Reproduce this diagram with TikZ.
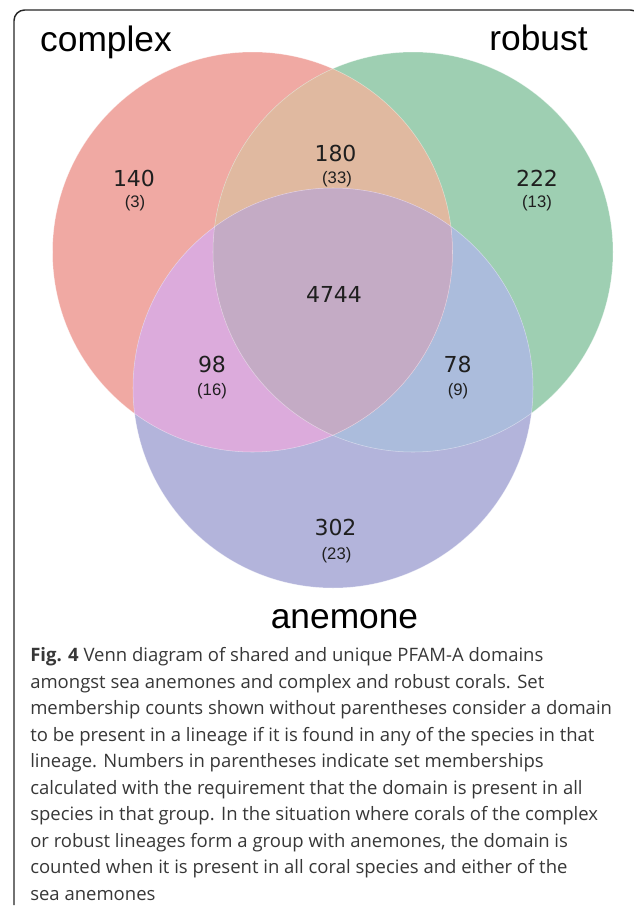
\documentclass[tikz,border=0pt]{standalone}
\usepackage{fontspec}
\usepackage{xcolor}
\newfontfamily\setfont{Liberation Sans}
\newfontfamily\numfont{DejaVu Sans}
\newfontfamily\capfont{Open Sans}
\definecolor{cplxcol}{RGB}{240,169,163}
\definecolor{robcol}{RGB}{158,207,178}
\definecolor{anemcol}{RGB}{179,180,219}
\definecolor{crcol}{RGB}{224,185,160}
\definecolor{cacol}{RGB}{220,171,220}
\definecolor{racol}{RGB}{171,188,220}
\definecolor{allcol}{RGB}{196,171,197}
\definecolor{capcol}{RGB}{55,55,55}

\begin{document}
\begin{tikzpicture}[x=0.75pt,y=-0.75pt,
    setname/.style={font=\setfont\fontsize{26.5}{30}\selectfont, anchor=base, inner sep=0pt},
    bignum/.style={font=\numfont\fontsize{16.5}{19}\selectfont, anchor=base, inner sep=0pt, text=black!88},
    smallnum/.style={font=\setfont\fontsize{12.5}{15}\selectfont, anchor=base, inner sep=0pt, text=black!88},
    capline/.style={font=\capfont\fontsize{13.87}{16}\selectfont, anchor=base west, inner sep=0pt, text=capcol},
    rim/.style={draw=white, line width=0.4pt, draw opacity=0.45}]
    \useasboundingbox (0,0) rectangle (633,910);
    % frame
    \draw[line width=1.1pt, black!85, rounded corners=8pt] (14,905) -- (14,10) -- (641,10) -- (641,905);

    % circle centres
    \coordinate (cplx) at (252.5,252);
    \coordinate (rob) at (413,252);
    \coordinate (anem) at (333,388);
    \def\rr{150pt}

    % single sets
    \fill[cplxcol] (cplx) circle[radius=\rr];
    \fill[robcol] (rob) circle[radius=\rr];
    \fill[anemcol] (anem) circle[radius=\rr];
    % overlaps
    \begin{scope}
        \clip (rob) circle[radius=\rr];
        \fill[racol] (anem) circle[radius=\rr];
    \end{scope}
    \begin{scope}
        \clip (cplx) circle[radius=\rr];
        \fill[crcol] (rob) circle[radius=\rr];
        \fill[cacol] (anem) circle[radius=\rr];
        \clip (rob) circle[radius=\rr];
        \fill[allcol] (anem) circle[radius=\rr];
    \end{scope}
    \draw[rim] (cplx) circle[radius=\rr];
    \draw[rim] (rob) circle[radius=\rr];
    \draw[rim] (anem) circle[radius=\rr];

    % set names
    \node[setname] (complex) at (106,51) {complex};
    \node[setname] (robust) at (538.5,50) {robust};
    \node[setname] (anemone) at (344.5,628) {anemone};

    % counts
    \node[bignum] (n100) at (134,186) {140};
    \node[smallnum] (s100) at (135,207) {(3)};
    \node[bignum] (n110) at (335.5,161) {180};
    \node[smallnum] (s110) at (337,183) {(33)};
    \node[bignum] (n010) at (537,186) {222};
    \node[smallnum] (s010) at (537,207) {(13)};
    \node[bignum] (n111) at (334,302) {4744};
    \node[bignum] (n101) at (212,372) {98};
    \node[smallnum] (s101) at (212,395) {(16)};
    \node[bignum] (n011) at (457.5,372) {78};
    \node[smallnum] (s011) at (458,395) {(9)};
    \node[bignum] (n001) at (335.5,535) {302};
    \node[smallnum] (s001) at (336.5,559) {(23)};

    % caption
    \node[capline] (cap1) at (30,661) {\textbf{Fig. 4} Venn diagram of shared and unique PFAM-A domains};
    \node[capline] (cap2) at (30,688) {amongst sea anemones and complex and robust corals. Set};
    \node[capline] (cap3) at (30,714) {membership counts shown without parentheses consider a domain};
    \node[capline] (cap4) at (30,741) {to be present in a lineage if it is found in any of the species in that};
    \node[capline] (cap5) at (30,767) {lineage. Numbers in parentheses indicate set memberships};
    \node[capline] (cap6) at (30,794) {calculated with the requirement that the domain is present in all};
    \node[capline] (cap7) at (30,820) {species in that group. In the situation where corals of the complex};
    \node[capline] (cap8) at (30,847) {or robust lineages form a group with anemones, the domain is};
    \node[capline] (cap9) at (30,873) {counted when it is present in all coral species and either of the};
    \node[capline] (cap10) at (30,900) {sea anemones};
\end{tikzpicture}
\end{document}
